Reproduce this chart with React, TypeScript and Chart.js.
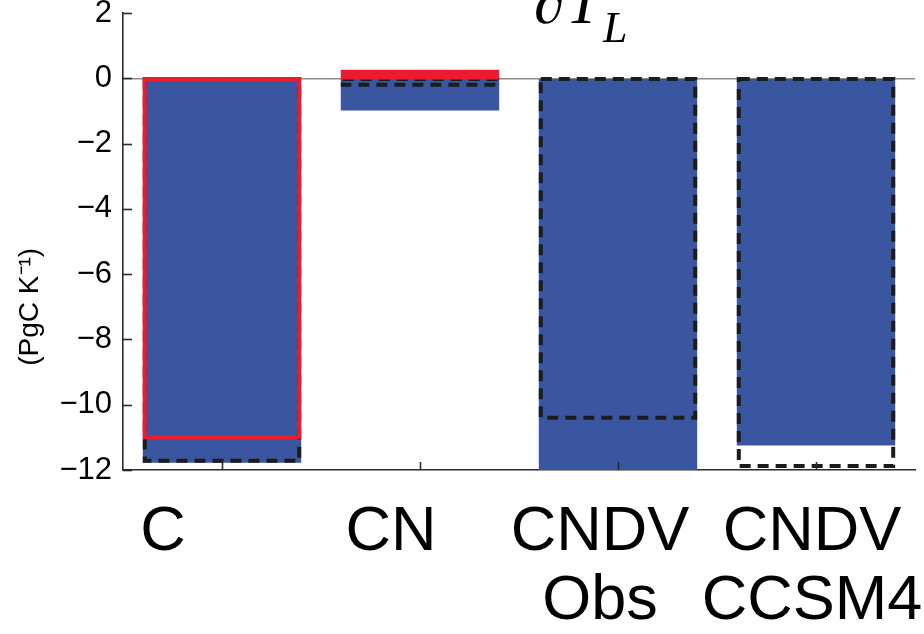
import React, { useEffect, useRef } from 'react';
import { Chart, registerables } from 'chart.js';

Chart.register(...registerables);

// ---- data ----
const categories: string[][] = [['C'], ['CN'], ['CNDV', 'Obs'], ['CNDV', 'CCSM4']];
const blueValues: (number | null)[] = [-11.78, -0.99, -12, -11.25];
const redValues: (number | null)[] = [-11.0, 0.2, null, null];
const dashedValues: (number | null)[] = [-11.72, -0.2, -10.4, -11.88];
const yMin = -12;
const yMax = 2;
const yStep = 2;
const yTitle = '(PgC K\u207B\u00B9)';

// ---- style ----
const BLUE = '#3A56A0';
const RED = '#EE1B2E';
const DASH = '#1c1c1c';
const AXIS = '#2a2a2a';
const xLabelShift = [-59, -29, -18, -4];

const titlePlugin = {
  id: 'titleDraw',
  afterDraw(chart: any) {
    const ctx = chart.ctx;
    ctx.save();
    ctx.fillStyle = '#000';
    ctx.textBaseline = 'alphabetic';
    ctx.textAlign = 'left';
    ctx.font = 'italic 62px "Liberation Serif", "DejaVu Serif", serif';
    ctx.fillText('\u2202', 534, 23);
    ctx.fillText('T', 566, 23);
    ctx.font = 'italic 44px "Liberation Serif", "DejaVu Serif", serif';
    ctx.fillText('L', 603, 42);
    const ys = chart.scales.y;
    ctx.translate(30, ys.getPixelForValue(-7));
    ctx.rotate(-Math.PI / 2);
    ctx.textAlign = 'center';
    ctx.textBaseline = 'middle';
    ctx.font = '28px "Liberation Sans", Arial, sans-serif';
    ctx.fillText(yTitle, 0, 0);
    ctx.restore();
  },
};

function outline(chart: any, meta: any, values: (number | null)[], color: string, dash: number[]) {
  const ctx = chart.ctx;
  const lw = 4;
  ctx.save();
  ctx.strokeStyle = color;
  ctx.fillStyle = color;
  ctx.lineWidth = lw;
  ctx.setLineDash(dash);
  meta.data.forEach((el: any, i: number) => {
    if (values[i] === null) return;
    const left = el.x - el.width / 2;
    const top = Math.min(el.y, el.base);
    const h = Math.abs(el.y - el.base);
    if (h < 2 * lw && dash.length === 0) {
      ctx.fillRect(left, top - lw / 2, el.width, h + lw);
    } else {
      ctx.strokeRect(left + lw / 2, top, el.width - lw, h);
    }
  });
  ctx.restore();
}

const outlinePlugin = {
  id: 'outlines',
  afterDatasetDraw(chart: any, args: any) {
    if (args.meta.label === 'dashed') outline(chart, args.meta, dashedValues, DASH, [11, 7]);
    if (args.meta.label === 'red') outline(chart, args.meta, redValues, RED, []);
  },
};

const axisDecor = {
  id: 'axisDecor',
  afterDraw(chart: any) {
    const ctx = chart.ctx;
    const xs = chart.scales.x;
    const ys = chart.scales.y;
    const area = chart.chartArea;
    ctx.save();
    ctx.strokeStyle = AXIS;
    ctx.lineWidth = 1.6;
    ys.ticks.forEach((t: any) => {
      const y = Math.round(ys.getPixelForValue(t.value)) + 0.5;
      ctx.beginPath();
      ctx.moveTo(area.left, y);
      ctx.lineTo(area.left + 9, y);
      ctx.stroke();
    });
    categories.forEach((_, i) => {
      const x = Math.round(xs.getPixelForValue(i)) + 0.5;
      ctx.beginPath();
      ctx.moveTo(x, area.bottom);
      ctx.lineTo(x, area.bottom - 8);
      ctx.stroke();
    });
    ctx.fillStyle = '#000';
    ctx.textAlign = 'center';
    ctx.textBaseline = 'alphabetic';
    ctx.font = '63px "Liberation Sans", Arial, sans-serif';
    categories.forEach((lines, i) => {
      const x = xs.getPixelForValue(i) + xLabelShift[i];
      lines.forEach((line, k) => {
        ctx.fillText(line, x, area.bottom + 80 + k * 69);
      });
    });
    ctx.restore();
  },
};

export default function App() {
  const ref = useRef<HTMLCanvasElement | null>(null);
  useEffect(() => {
    if (!ref.current) return;
    const common = { grouped: false, barPercentage: 0.8, categoryPercentage: 1.0, borderWidth: 0 };
    const chart = new Chart(ref.current, {
      type: 'bar',
      data: {
        labels: categories,
        datasets: [
          { ...common, label: 'red', data: redValues, backgroundColor: 'rgba(0,0,0,0)', order: 1 } as any,
          { ...common, label: 'dashed', data: dashedValues, backgroundColor: 'rgba(0,0,0,0)', order: 2 } as any,
          { ...common, label: 'blue', data: blueValues, backgroundColor: BLUE, order: 3 } as any,
        ],
      },
      options: {
        responsive: false,
        animation: false,
        layout: { padding: { top: 13, right: 9, left: 0, bottom: 0 } },
        plugins: {
          legend: { display: false },
          tooltip: { enabled: false },
        },
        scales: {
          x: {
            ticks: { display: false },
            grid: { display: false, drawTicks: false },
            border: { display: true, color: AXIS, width: 1.6 },
            afterFit(scale: any) {
              scale.height = 164;
              scale.paddingLeft = 0;
              scale.paddingRight = 0;
            },
          },
          y: {
            min: yMin,
            max: yMax,
            ticks: {
              stepSize: yStep,
              padding: 11,
              color: '#000',
              font: { family: '"Liberation Sans", Arial, sans-serif', size: 31 },
              callback: (v: any) => (Number(v) < 0 ? '\u2212' + Math.abs(Number(v)) : String(v)),
            },
            grid: {
              drawTicks: false,
              color: (c: any) => (c.tick && c.tick.value === 0 ? '#8c8c8c' : 'rgba(0,0,0,0)'),
              lineWidth: 1.5,
            },
            border: { display: true, color: AXIS, width: 1.6 },
            title: { display: false },
            afterFit(scale: any) {
              scale.width = 123;
              scale.paddingTop = 0;
              scale.paddingBottom = 0;
            },
          },
        },
      },
      plugins: [titlePlugin, outlinePlugin, axisDecor],
    });
    return () => chart.destroy();
  }, []);
  return (
    <div style={{ position: 'absolute', left: 0, top: 0, width: 924, height: 634, background: '#fff' }}>
      <canvas ref={ref} width={924} height={634} style={{ width: 924, height: 634 }} />
    </div>
  );
}
